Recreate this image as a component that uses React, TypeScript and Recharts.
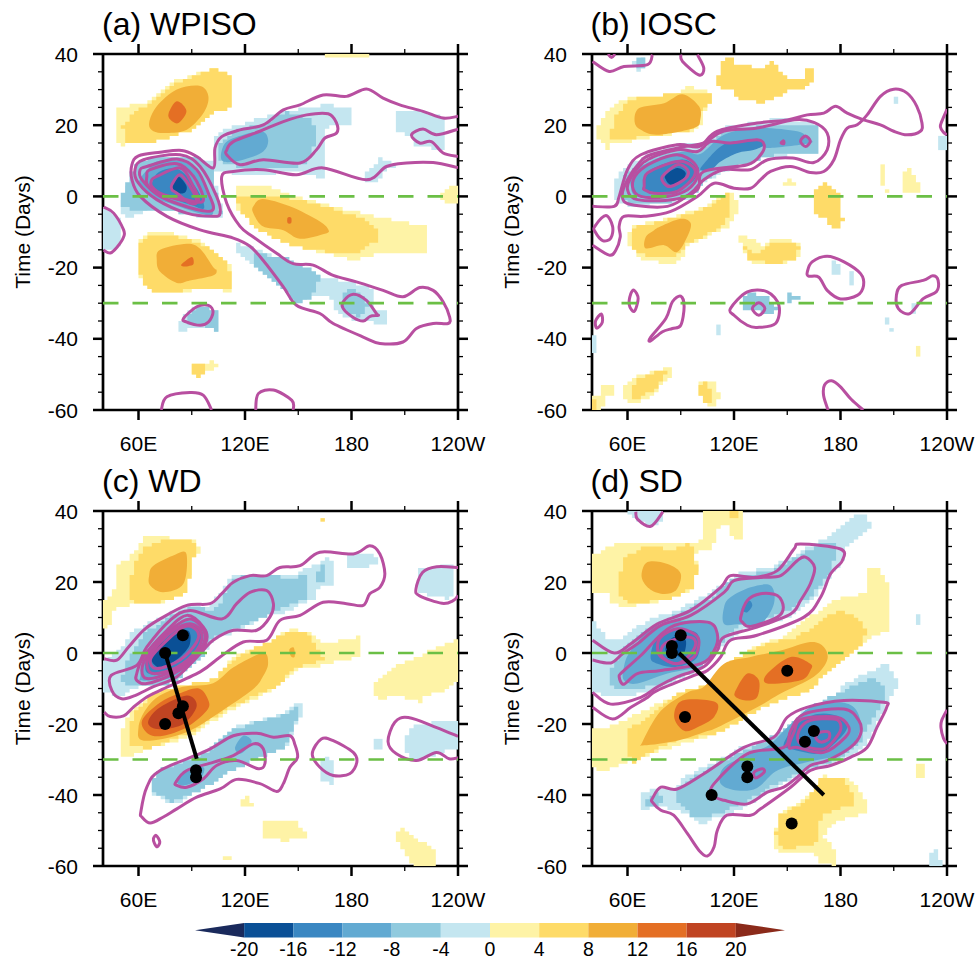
import React from "react";
import { ScatterChart, Scatter, XAxis, YAxis } from "recharts";

// ============================================================================
// Types
// ============================================================================

type Pt = [number, number]; // [longitude, lag day]
type XY = { x: number; y: number };

interface Shade {
  level: number; // colour band: -5..-1 negative, 1..5 positive
  pts: Pt[];
}

interface Contour {
  closed: boolean;
  pts: Pt[];
}

// ============================================================================
// Data
// ============================================================================

const LON_TICKS = [60, 90, 120, 150, 180, 210, 240];
const LON_MAJOR: Record<number, string> = { 60: "60E", 120: "120E", 180: "180", 240: "120W" };
const DAY_TICKS = [40, 35, 30, 25, 20, 15, 10, 5, 0, -5, -10, -15, -20, -25, -30, -35, -40, -45, -50, -55, -60];
const DAY_MAJOR = [40, 20, 0, -20, -40, -60];
const DASHED_DAYS = [0, -30];
const BAR_TICKS = [-20, -16, -12, -8, -4, 0, 4, 8, 12, 16, 20];

const WPISO_SHADES: Shade[] = [
  { level: 1, pts: [[48, 25], [63, 26], [78, 32], [102, 36], [108, 35], [112, 33], [112, 25], [100, 23], [93, 19], [67, 15], [54, 15], [52, 14], [48, 15]] },
  { level: 2, pts: [[51, 20], [56, 23], [66, 26], [78, 31], [102, 36], [108, 35], [112, 33], [112, 25], [100, 23], [93, 19], [67, 15], [55, 15], [52, 16]] },
  { level: 3, pts: [[66, 20.6], [70.3, 25.3], [81.6, 30], [94.7, 31], [99.4, 28], [96.6, 23.4], [87.2, 18.7], [76, 17.8], [68.4, 18.3]] },
  { level: 4, pts: [[77, 23.4], [81.6, 26.7], [87, 24], [82.5, 20.6], [78, 21.5]] },
  { level: -1, pts: [[102, 17], [115, 20], [142, 24], [162, 25.3], [167, 26.7], [172, 24.8], [180, 24.8], [180, 20.6], [165, 19.2], [165, 4.7], [147, 7.5], [128, 5.6], [112, 6.6], [102, 7.5]] },
  { level: -2, pts: [[105, 15], [113.4, 18.3], [132, 20.6], [143.4, 23.9], [158.5, 21.5], [159.4, 15], [154.7, 9.4], [147, 7.5], [124.7, 7.5], [107.8, 9.4], [104, 11.2]] },
  { level: -3, pts: [[107, 13], [111.6, 16], [128.4, 18.3], [133, 16], [130.3, 12.6], [119, 10.3], [107.8, 9.8]] },
  { level: -1, pts: [[205.3, 24], [224, 23.4], [233.4, 22], [233.4, 13], [215.6, 14], [215.6, 17], [205.3, 17.8]] },
  { level: -1, pts: [[187.5, 3.7], [187.5, 6.6], [192, 8.4], [196, 10.8], [201.6, 9.4], [212, 9.4], [199.7, 7.5], [194, 3.7]] },
  { level: -1, pts: [[50.6, -2], [54.4, 4], [57.2, 8.4], [74, 11.2], [91, 11.2], [102, 9.4], [102, 5.6], [106, -1], [107, -5.6], [92.8, -5.6], [77.8, -3.7], [66.6, -3.3], [56, -6], [50, -5]] },
  { level: -2, pts: [[50.6, -3], [51, 1], [55, 6], [60, 10], [74, 11.5], [91, 11.5], [102, 8], [104, 0], [107, -5], [93, -5.5], [78, -4], [66, -3.5], [58, -4]] },
  { level: -3, pts: [[61, 5], [66, 8], [72, 10], [87, 9.4], [98, 3], [102, -4.7], [94, -4.7], [78, -2], [67, 0], [61, 3]] },
  { level: -4, pts: [[67.5, 3.7], [72, 7], [83, 7.5], [93, 2], [97, -3.3], [89, -2.3], [76, 0], [68.5, 1.4]] },
  { level: -5, pts: [[79, 3.7], [82.5, 5.6], [87, 3], [86, 1], [81.6, 1], [79, 2.3]] },
  { level: -1, pts: [[40, -3], [45, -4], [50, -7], [51, -11], [48, -15], [42, -15], [40, -14]] },
  { level: 1, pts: [[115, 3], [132, 3], [147, 0], [170, -3], [194, -5.6], [222, -8.5], [222, -16], [200, -15.5], [183, -18], [166, -16], [147, -14], [130, -10], [115, -3]] },
  { level: 2, pts: [[115, 0], [132, 0.5], [151, -1], [170, -3.7], [188, -6.5], [194, -9.5], [194, -12.5], [183, -16.5], [166, -15.5], [147, -14], [130, -10], [118, -5]] },
  { level: 3, pts: [[124.7, -2.8], [130, -0.7], [145.3, -2.8], [162, -7], [167, -9.4], [165, -10.5], [151, -11.9], [141.6, -9.5], [130, -8.4], [124.7, -4.7]] },
  { level: 4, pts: [[144, -6], [146, -6], [146, -7.5], [144, -7.5]] },
  { level: 1, pts: [[60, -12.3], [64.7, -10.5], [74, -10], [94.7, -12.3], [102, -15], [111.6, -18.9], [112.5, -26.8], [102, -25.9], [83.4, -26.8], [68.4, -27], [62.8, -25], [60, -21.7]] },
  { level: 2, pts: [[61, -13], [65, -11], [74, -10.5], [94, -13], [102, -15.5], [111, -19], [112, -26.5], [102, -25.5], [83, -26.7], [68.5, -26.7], [63, -25], [61, -21]] },
  { level: 3, pts: [[70.3, -18], [72.2, -15], [87.2, -13.3], [94.7, -14.7], [102, -19.8], [104, -20.7], [102, -22.2], [89, -23.6], [81.6, -24.3], [72.2, -21.2]] },
  { level: 4, pts: [[84.4, -19], [90, -17], [91, -19], [88, -19.6], [84.7, -19.6]] },
  { level: -1, pts: [[115, -13.3], [124.7, -14.2], [132.2, -16], [162.2, -22.6], [188.4, -25], [192, -26.4], [192, -32], [199.7, -32], [199.7, -36], [192, -36], [192, -35.3], [177, -34.3], [170.6, -32], [169.7, -28.7], [160.3, -27.8], [149, -30], [141.6, -25.9], [130.3, -21.7], [122.8, -18], [115, -16]] },
  { level: -2, pts: [[123.7, -16], [132.2, -16.5], [143.4, -17.5], [158.5, -20.7], [162.6, -23.1], [156.3, -28.7], [149, -30], [141.6, -25.9], [130.3, -21.7], [124.7, -19]] },
  { level: -2, pts: [[173.3, -28.7], [180, -25.2], [184.7, -27.3], [189.4, -30.6], [184.7, -33.7], [176.3, -32]] },
  { level: -1, pts: [[82.5, -35.5], [86.3, -32.9], [92.8, -30.6], [104, -32.5], [105, -38.1], [98.4, -36.7], [82.5, -38]] },
  { level: -2, pts: [[86, -35.3], [90, -32], [96.6, -30.6], [104, -32.5], [105, -38], [97.5, -36.3], [90, -36.5]] },
  { level: 1, pts: [[90, -47.2], [97.5, -47], [102, -46.2], [105, -47.4], [102, -48.6], [94.7, -49.3], [94.7, -51], [90.6, -50]] },
  { level: 2, pts: [[90, -47.2], [97, -47.2], [97, -49.5], [94.7, -51], [90.6, -50]] },
  { level: 1, pts: [[165, 40], [190, 40], [190, 39.2], [180, 38.8], [168, 38.5]] },
  { level: 1, pts: [[230, -1], [232, 2], [238, 3], [240, 5], [240, -2], [233, -1.5]] },
];

const WPISO_CONTOURS: Contour[] = [
  { closed: false, pts: [[240, 22.5], [231.6, 22], [220.3, 23.9], [207.2, 25.7], [197.8, 27.6], [188.4, 30.2], [177.2, 28.1], [164, 28.5], [151, 25.7], [141.6, 24.3], [130.3, 20.1], [117.2, 18.7], [106.9, 16.8], [103.1, 13.6], [102.2, 8], [92.8, 11.2], [84.4, 12.9], [72.2, 12.4], [60, 11.4], [56.3, 8.9], [56.3, 4.7], [61, 0], [76, -5.6], [94.7, -9.4], [113.4, -11.7], [122.8, -14], [130.3, -18], [141.6, -25.4], [149, -30.6], [162.2, -32.9], [169.7, -35.7], [186.6, -39.5], [196, -41.3], [209, -40.9], [216.6, -37.1], [226, -35.7], [234.4, -35.7], [235.3, -33.9], [231.6, -29.6], [226, -26.4], [218.4, -25.6], [209, -28.2], [197.8, -26.4], [182.8, -24], [169.7, -22.2], [158.4, -19.3], [147.2, -18.9], [137.8, -16], [124.7, -11.4], [117.2, -8.4], [109.7, -1.9], [106.9, 5.6], [113.4, 7], [130.3, 7.5], [149, 6.1], [164, 8], [188.4, 4.7], [199.7, 8.4], [211, 9.4], [226, 9.5], [240, 8.1]] },
  { closed: true, pts: [[109.7, 13], [113.4, 15.4], [128.4, 18.3], [141.6, 21], [154.7, 22.9], [166.9, 23.2], [171.6, 20.6], [171.6, 17.8], [165, 16.4], [160.3, 13.1], [151, 9.4], [130.3, 10.3], [117.2, 8.9], [109.7, 11.7]] },
  { closed: false, pts: [[240, 18.9], [227.8, 17.3], [220.3, 18.9], [213.8, 17.3], [218.4, 15], [225, 15.4], [231.6, 12.2], [240, 11.2]] },
  { closed: true, pts: [[62.8, 10.3], [83.4, 11.7], [94.7, 8.4], [104, 0], [106, -4.7], [102, -5.6], [87.2, -4.7], [70.3, -0.9], [60, 3.7], [58, 7.5]] },
  { closed: true, pts: [[64.7, 8.4], [81.6, 10.5], [92.8, 7.5], [99.4, 0.9], [102, -3.7], [92.8, -3.7], [72.2, 0], [61.9, 4.7], [60.9, 7.5]] },
  { closed: true, pts: [[66.6, 7.5], [81.6, 9.2], [91, 5.6], [96.6, -0.9], [90, -1.4], [76, 0], [65.6, 2.8], [64.7, 5.6]] },
  { closed: true, pts: [[70.3, 5.6], [83.4, 8], [90, 3.7], [93.8, -1.4], [87.2, -0.9], [74, 0.5], [67.5, 2.8], [67.5, 4.7]] },
  { closed: true, pts: [[78.8, 3.3], [83.4, 6.1], [89, 2.8], [92.8, -1.4], [89, -1.9], [81.6, 0.9], [78.8, 1.9]] },
  { closed: true, pts: [[175.3, -29.6], [181, -27.5], [188.4, -29.2], [194, -32.9], [195, -33.4], [190.5, -33.7], [186.6, -35], [181, -34], [175.3, -31.5]] },
  { closed: true, pts: [[85.3, -34.3], [92.8, -31], [99.4, -30.6], [102, -32.5], [99.4, -35.3], [94.7, -36.2], [87.2, -35.3]] },
  { closed: false, pts: [[40.3, -3], [46, -4.7], [51.6, -9.4], [51.6, -11.4], [48, -14.2], [44.1, -15.9], [40.3, -15.1]] },
  { closed: false, pts: [[72.8, -60], [76, -56.3], [89, -55.1], [96.6, -55.9], [101.2, -60]] },
  { closed: false, pts: [[126, -60], [127.5, -55.4], [136, -54.4], [146.4, -57.3], [147.2, -60]] },
];

const IOSC_SHADES: Shade[] = [
  { level: 1, pts: [[43, 16], [43, 20], [52, 26], [63, 28], [88, 28.5], [92, 31], [108, 29], [108, 27], [103, 23], [103, 20], [95, 18], [78, 17], [62, 15.5], [52, 15], [49, 13], [48, 15]] },
  { level: 2, pts: [[50.6, 16], [51.6, 21.5], [58, 25.7], [64, 27.6], [88, 29], [108, 29], [108, 27], [101, 23.4], [101, 20.6], [94, 18.3], [77, 17.3], [67.5, 16.8], [58, 15.4]] },
  { level: 3, pts: [[64, 21], [66.6, 24.8], [80.6, 26.2], [91, 28.7], [100.3, 25.3], [101, 21.5], [97.5, 19.2], [77, 17.3], [67.5, 18.7]] },
  { level: 2, pts: [[110.6, 32.8], [114.4, 39.5], [120, 39.5], [121, 37], [137, 36], [141.6, 37.9], [150, 33.2], [160, 33.2], [160, 36], [165, 35.6], [165, 32.3], [160, 30.4], [152, 30.4], [150, 29], [136, 26.2], [124, 27.1], [118, 30], [112, 30]] },
  { level: -1, pts: [[63, 38], [70, 39], [70, 36.5], [67.5, 35], [64, 36.5]] },
  { level: -2, pts: [[65.6, 38.6], [70, 38.8], [70, 36.5], [66, 36.5]] },
  { level: -1, pts: [[53, 0], [53, 4.7], [57, 7.5], [71, 12.2], [90, 15], [105, 15], [114, 19.5], [133, 21], [144, 22], [165, 20.6], [168, 20], [168, 12], [139, 11.2], [129, 9.4], [112.5, 6.6], [100, 2.3], [97.5, -0.5], [84, -2], [62, -3], [54.4, -1]] },
  { level: -2, pts: [[56, 1], [59, 6.5], [74, 11], [89.5, 13.5], [101, 13], [116, 18.5], [133, 19.5], [145.5, 20.5], [165, 20], [167.8, 19.8], [167.8, 12.2], [139, 11.4], [129, 9.4], [113, 7], [102, 4], [98, 0], [85, -1.5], [62, -2]] },
  { level: -3, pts: [[61.9, 2.8], [62.8, 6.6], [75, 10.3], [91.9, 12.6], [101.3, 12], [114.4, 17.3], [133, 19.2], [155.6, 18.3], [161, 16.4], [163, 15], [140.6, 13.6], [135, 14], [125.6, 13], [112.5, 10.3], [99.4, 6.6], [97.5, 3.7], [84.4, 0], [65.6, 0]] },
  { level: -4, pts: [[69.4, 3.7], [73, 7.5], [90, 10.3], [97.5, 8.9], [100.3, 7.5], [95.6, 3.7], [82.5, 0.9], [73, 1.4], [69.4, 2.3]] },
  { level: -4, pts: [[101, 7.5], [105, 10.3], [112.5, 14], [120, 15.4], [133, 15.9], [137, 14.5], [131, 13], [122, 12.2], [112.5, 9.8], [107, 7.5]] },
  { level: -5, pts: [[81.6, 6.1], [88, 8], [92.8, 6.6], [90, 4.2], [84.4, 3.3], [81.6, 4.7]] },
  { level: 1, pts: [[61, -10], [64, -8], [88, -5.6], [105, -2.3], [118, 1.9], [123, -2.8], [118, -8.4], [112.5, -9.5], [99.4, -12.8], [94, -13.3], [90, -18], [86, -19], [70, -18], [61, -14.2]] },
  { level: 2, pts: [[62, -10.5], [65, -8.5], [88, -6], [105, -3], [117, 1.5], [118, -3], [115, -8], [100, -12], [93, -13.5], [88, -17], [72, -17.5], [62, -14]] },
  { level: 3, pts: [[78.8, -8.4], [90, -6.3], [95.6, -7.5], [94, -11], [88, -15.6], [80.6, -13.7], [70.3, -14.6], [70.3, -11.4], [75, -9.5]] },
  { level: 1, pts: [[148, 3.3], [151, 5.1], [154.7, 3.3]] },
  { level: 2, pts: [[165, 1.9], [171.6, 3.7], [180, 0], [180, -4.7], [181.9, -6.6], [180, -9.4], [176.3, -9.4], [172.5, -6.6], [166, -4.7]] },
  { level: 1, pts: [[202.5, 9.4], [205.3, 9.4], [205.3, 2.8], [202.5, 2.8]] },
  { level: 1, pts: [[204.4, 2.3], [208, 2.3], [208, 1], [204.4, 1]] },
  { level: 1, pts: [[215.6, 6.6], [219.4, 8], [222.2, 4.7], [225, 3.3], [225, 1], [215.6, 1]] },
  { level: 1, pts: [[122.8, -10.9], [132.2, -11.9], [135, -14.2], [142.5, -11.4], [157.5, -13.3], [156.5, -17], [150, -18.9], [129.4, -18.9], [124.7, -15]] },
  { level: 2, pts: [[125, -14.2], [133, -16], [142.5, -12.8], [156.6, -13.7], [155.6, -17.5], [144.4, -18.9], [129.4, -18]] },
  { level: -2, pts: [[125, -28.2], [127.5, -27.3], [137.8, -27.8], [144.4, -31.5], [143.4, -32.9], [125.6, -32]] },
  { level: -2, pts: [[150, -27.3], [153, -27.8], [157.5, -28.2], [157.5, -29.2], [153, -29.2], [150, -30]] },
  { level: -1, pts: [[175.3, -18], [180, -19], [180, -22.2], [175.3, -22.2]] },
  { level: -1, pts: [[185, -21.2], [187.5, -21.2], [187.5, -25.3], [185, -25.3]] },
  { level: -1, pts: [[204.7, -33.9], [207.2, -33.9], [207.2, -36.2], [204.7, -36.2]] },
  { level: -1, pts: [[207.6, -37.1], [210.4, -37.1], [210.4, -38], [207.6, -38]] },
  { level: -1, pts: [[219.8, -30.1], [222.7, -30.1], [222.7, -32.5], [219.8, -32.5]] },
  { level: -1, pts: [[110.2, -35.5], [112.5, -35.5], [112.5, -38.5], [110.2, -38.5]] },
  { level: -1, pts: [[40, -39], [42.8, -39], [42.8, -44], [40, -44]] },
  { level: -1, pts: [[235.3, 16.8], [240, 17.3], [240, 13.1], [235.3, 13.1]] },
  { level: -1, pts: [[209.6, 28], [212.6, 28], [212.6, 25.7], [209.6, 25.7]] },
  { level: 1, pts: [[222.7, -41.5], [225.4, -41.5], [225.4, -44.6], [222.7, -44.6]] },
  { level: 1, pts: [[40, -56.3], [45, -56.3], [45, -53], [52.5, -53], [52.5, -55.9], [48, -56.3], [48, -59.2], [43, -60], [40, -60]] },
  { level: 2, pts: [[40, -57], [43, -57], [43, -60], [40, -60]] },
  { level: 1, pts: [[57.2, -53.5], [65.6, -50.2], [84.4, -48.1], [85.3, -50], [75, -55.4], [66.6, -58.2], [63.8, -58], [57.2, -57]] },
  { level: 2, pts: [[61, -54.5], [65.6, -51], [77, -49.3], [84.4, -48.4], [77, -53.5], [65.6, -57.3], [62, -57.3]] },
  { level: 1, pts: [[100.3, -52.1], [110, -52.1], [110, -55.1], [112.5, -55.1], [112.5, -57], [110, -57], [110, -59.2], [105, -59.2], [100.3, -55.1]] },
  { level: 2, pts: [[101.2, -53], [104, -52], [107.8, -55.4], [108.8, -58], [105, -58.6], [101.2, -55.4]] },
];

const IOSC_CONTOURS: Contour[] = [
  { closed: false, pts: [[40.3, -2.8], [52.5, -2.8], [55.3, 0], [60, 7.5], [67.5, 11.7], [88, 14.5], [100.3, 14], [110.6, 18.3], [133, 20.6], [150, 21.5], [161.3, 22.9], [170.6, 23.4], [177.2, 25.3], [183.8, 23.4], [193, 21.5], [202.5, 20.1], [210, 18.3], [217.5, 17.3], [225, 18.3], [225.9, 20.6], [223, 25.3], [217.5, 29], [210, 30.1], [202.5, 28.1], [195, 22.9], [189.4, 20.1], [183.8, 19.2], [180, 15.9], [176.3, 10.3], [170.6, 7], [163, 6.7], [151.9, 8.4], [140.6, 7], [135, 4.7], [129.4, 2.3], [120, 2.3], [108.8, 3.7], [99.4, 0], [84.4, -4.2], [69.4, -5.6], [58, -5.6], [55.3, -8.4], [55.9, -11.4], [53.4, -15.1], [49.7, -16.5], [40.3, -13.7]] },
  { closed: true, pts: [[41.6, -8.4], [47.8, -5.4], [51.6, -8.4], [50.6, -11.7], [46, -12.4], [41.6, -9.8]] },
  { closed: true, pts: [[57, 0], [60, 4.7], [66.6, 9.4], [73, 11.7], [92, 14], [103, 15], [114, 18.3], [133, 19.2], [154, 21.5], [165, 20.8], [172.5, 17.8], [172.5, 13.1], [165, 9.5], [153, 10.8], [139, 10.3], [129, 7.5], [114, 7.5], [103, 4.7], [95.6, 0.9], [82.5, -2.8], [62, -2.3]] },
  { closed: true, pts: [[60, 1.9], [62.8, 6], [71.3, 10.3], [88, 13.1], [99.4, 12.6], [106.9, 15.4], [118, 15], [133, 15.9], [137, 14.5], [135, 11.7], [127.5, 8.9], [103, 7], [99.4, 1.9], [86, -0.9], [65.6, -0.9]] },
  { closed: true, pts: [[62.8, 2.8], [65.6, 6.6], [75, 9.8], [88, 11.7], [97.5, 9.4], [99.4, 5.6], [93.8, 1.9], [82.5, 0], [67.5, 0]] },
  { closed: true, pts: [[69.4, 2.8], [71.3, 6.6], [88, 9.8], [96.6, 8.4], [97.5, 5.6], [88, 1.4], [75, 0.9], [69.4, 1.9]] },
  { closed: true, pts: [[79.7, 5.6], [88, 8.9], [93.8, 7.5], [92.8, 5.1], [84.4, 2.8], [80.6, 3.7]] },
  { closed: true, pts: [[157.5, 15.5], [160.3, 17], [163, 15.5], [160.3, 14]] },
  { closed: true, pts: [[146.5, 15], [148, 15.6], [148, 14.8]] },
  { closed: false, pts: [[40.3, 37.9], [49.7, 35.1], [58, 36.5], [71.3, 37], [74, 39.8]] },
  { closed: false, pts: [[49, 40], [51, 39], [53, 40]] },
  { closed: false, pts: [[90, 39.8], [91, 37.9], [100.3, 34.1], [103, 36], [99.4, 39.8]] },
  { closed: false, pts: [[240, 24.5], [237, 21], [236.3, 19.5], [238, 18], [240, 17.3]] },
  { closed: true, pts: [[161.3, -21.2], [164, -18.4], [172.5, -16.8], [182, -18.4], [191.3, -21.7], [193, -25], [189.4, -27.8], [180, -28.8], [172.5, -26.4], [167.8, -22.7], [162, -22.4]] },
  { closed: true, pts: [[211.5, -27.8], [214.5, -25], [226.6, -23.6], [232, -22.3], [235, -23.6], [234, -26.8], [226.6, -28.7], [219, -32.9], [212.6, -31.5]] },
  { closed: true, pts: [[118, -31.5], [127.5, -26.8], [138.8, -26.8], [145.3, -30.6], [143.4, -35.7], [133, -36.8], [127.5, -36.2], [120, -33.4]] },
  { closed: true, pts: [[130.3, -31.5], [134, -29.9], [137.4, -31.5], [134, -33.4]] },
  { closed: true, pts: [[61.9, -27.3], [63.8, -26.4], [66, -28.7], [63.8, -32.3], [61, -30.5]] },
  { closed: true, pts: [[73, -40.6], [79.7, -38], [85.3, -37.1], [90, -36.2], [91.9, -31], [90, -28], [85.3, -29.6], [81.6, -34.3], [73, -39.6]] },
  { closed: true, pts: [[42, -35], [45.2, -33], [45.8, -35.4], [42.7, -37]] },
  { closed: false, pts: [[173, -60], [170.5, -56], [171, -53], [175, -51.8], [180, -53.5], [186, -57], [192.8, -60]] },
];

const WD_SHADES: Shade[] = [
  { level: 1, pts: [[40.7, 6.4], [40.7, 14.8], [46, 17.6], [47.8, 24.1], [59, 28.8], [62.8, 33.5], [70.3, 32.8], [92.8, 31.6], [94.7, 28.8], [91, 27], [86, 16.7], [70.3, 13.4], [57, 13.9], [46, 12], [44, 8.2]] },
  { level: 2, pts: [[54.4, 18.5], [57, 24.1], [62.8, 29.8], [74, 32.1], [91, 31.6], [92, 28.8], [87, 16.7], [70.3, 13.9], [57, 13.9]] },
  { level: 3, pts: [[66, 21.8], [68.4, 24.6], [80.6, 27.7], [87, 27.9], [85.3, 19.5], [74, 17.1], [66.6, 19]] },
  { level: 2, pts: [[162, 38], [165, 38], [165, 37], [162, 37]] },
  { level: -1, pts: [[41, -2], [50, 1.7], [57, 6.4], [72, 10], [89, 14], [100, 13], [112.5, 22], [125, 22.3], [147, 22], [160, 25], [167, 26.8], [170, 25], [170, 19.3], [159.4, 18], [159.4, 15.3], [142.5, 11.5], [130, 10], [117, 6.4], [102, 3.6], [98, -0.2], [80, -7.7], [62, -9], [50, -12.5], [40, -11], [40, -3]] },
  { level: -2, pts: [[50.6, -6.7], [53.4, -2], [63, 5.4], [80, 11], [93, 13.4], [100, 12], [106, 13.9], [113, 21.3], [125, 21.8], [147, 21.3], [155, 21.8], [155.6, 15.7], [143.4, 12.9], [130, 10], [121, 8.2], [111.6, 6.4], [99.4, 3.6], [96.6, -1.1], [80, -8.6], [62, -9], [52, -9]] },
  { level: -2, pts: [[159.4, 21.3], [163, 25.6], [166, 23.2], [165, 20.4], [160.3, 19.5]] },
  { level: -3, pts: [[61, -6.7], [62.8, -1.1], [74, 5.4], [89, 9.2], [98.4, 6.4], [98.4, 3.1], [91, -2], [79.7, -6.7], [68.4, -7.7], [61, -7.7]] },
  { level: -4, pts: [[63.8, -3.9], [65.6, -1.1], [76, 5.4], [89, 8.2], [95.6, 6.4], [95.6, 3.1], [89, -2], [74, -5.8], [65.6, -5.8]] },
  { level: -5, pts: [[67.5, -1.1], [74, 3.1], [87.2, 6.4], [89, 2.6], [83.4, -1.1], [74, -3.9], [69.4, -3.5]] },
  { level: -1, pts: [[177.6, 27.4], [192.2, 28.4], [195, 25], [187.5, 24.1], [177.2, 24]] },
  { level: -1, pts: [[216.9, 23.7], [237.6, 24.9], [237.6, 15.7], [233, 15.3], [216.9, 17.1]] },
  { level: 1, pts: [[147, 7], [158, 5.4], [164, 2.6], [184.7, 4.5], [184.7, -1.1], [170, -2.5], [165, -3.5], [151, -4.4], [136, -10.5], [130, -12], [113, -16], [87, -24], [63, -27.5], [55, -29], [50, -29], [50, -23], [55, -16.3], [70, -11], [85, -9], [102, -8], [113, -1.1], [132, 3]] },
  { level: 2, pts: [[147, 6.5], [155, 5.5], [163, 0], [164, -2], [150, -4], [136, -10], [113, -15], [87, -23], [65, -27], [56, -26], [54, -22], [58, -16], [70, -11], [85, -9], [102, -7.5], [114, -1.5], [132, 3]] },
  { level: 3, pts: [[63, -24.7], [60, -21], [64, -16], [72, -12], [85, -9.5], [102, -8.5], [113.5, -4], [130, 0], [133, -3], [130, -6.7], [125, -10], [110, -15.3], [87, -22.3]] },
  { level: 3, pts: [[145, 1], [147.5, 1.5], [148, -1], [146, -1]] },
  { level: 4, pts: [[62, -19], [72, -14], [83, -11.4], [94, -10], [99.4, -13.4], [98.4, -16.3], [87, -21], [74, -23.3], [65.6, -22.8]] },
  { level: 5, pts: [[65.6, -19], [72.2, -15.3], [87.2, -12], [92.8, -14.9], [85.3, -20], [74, -21.4], [67.5, -21]] },
  { level: 1, pts: [[192, -8.6], [203, -4], [233, 2.6], [240, 4], [240, -8], [233.4, -10.6], [222, -12], [218.4, -14], [207, -12], [198, -13], [192, -11.6]] },
  { level: -1, pts: [[67.5, -36], [72, -32.6], [98.4, -27.5], [113, -21], [126.6, -19], [141.6, -17], [148, -14.4], [152, -14.4], [152, -17.7], [149, -20], [143.4, -26.6], [136, -28.4], [124.7, -29.8], [113, -33], [102, -36.8], [91, -39.7], [80, -42.9], [74, -41], [68, -40]] },
  { level: -2, pts: [[68, -36], [72, -33], [98, -28], [113, -21.5], [126.6, -19.5], [141.6, -17.5], [148, -15], [150, -16], [150, -18], [148, -20.5], [142, -27], [135, -28.5], [124, -30.5], [112, -33.5], [101, -37], [90, -40], [80, -42], [74, -40.5], [68.5, -39.5]] },
  { level: -3, pts: [[114.4, -26.6], [119, -23.3], [123.7, -24.7], [121, -27], [117, -28.4]] },
  { level: -3, pts: [[81.6, -35.9], [87, -33], [96.6, -32.2], [94.7, -35.4], [85.3, -37.3]] },
  { level: -1, pts: [[162, -32], [165, -29.4], [167.6, -29.4], [169.4, -31.7], [171.3, -34], [169.4, -36.8], [165, -36.4], [162, -34.5]] },
  { level: -1, pts: [[192.6, -24.2], [197.4, -24.2], [197.4, -27], [192.6, -27]] },
  { level: -1, pts: [[210, -24.7], [212.8, -21], [222.2, -20], [233.4, -19], [239.4, -19.5], [239.4, -26.6], [229.7, -28.4], [214.8, -30.3], [210, -27.5]] },
  { level: 1, pts: [[130.3, -47.1], [147.2, -47.1], [154.7, -50.9], [154.7, -51.8], [143.4, -53], [130.3, -51.8]] },
  { level: 1, pts: [[205.3, -50.9], [210, -49], [212.8, -50.9], [226.9, -55.6], [226.9, -60], [214.7, -60], [205.3, -52.8]] },
  { level: 1, pts: [[107.8, -56.5], [112.5, -58], [107.8, -58]] },
  { level: 1, pts: [[117.5, -41.5], [121.8, -40.1], [124.7, -43], [119, -43]] },
];

const WD_CONTOURS: Contour[] = [
  { closed: false, pts: [[40.7, -1.6], [47.8, -2], [54.4, 1.7], [62.8, 6.4], [72.2, 9.6], [87.2, 13.4], [100.3, 13.9], [106.9, 16.7], [113.4, 19.9], [122.8, 21.8], [132.2, 21.8], [139.7, 24.1], [151, 24.6], [162.2, 28.4], [181, 27.9], [190.3, 30.2], [196, 27.9], [198.8, 22.3], [196, 18.5], [190.3, 16.7], [186.6, 13.4], [177.2, 13.9], [164, 14.3], [151, 10.6], [139.7, 9.2], [132.2, 3.6], [119, 3.1], [106, -1.1], [94.7, -5.3], [72.2, -10.5], [64.7, -12.4], [57, -15.3], [51.6, -17.7], [44, -17.9], [40.7, -16.7]] },
  { closed: true, pts: [[44.6, -6.3], [59, -3.5], [64.7, 1.7], [77.8, 9.2], [89, 12], [106.9, 9.6], [115.3, 13.9], [122.8, 17.1], [132.2, 17.6], [136, 13.9], [134, 10.1], [126.6, 6.4], [113.4, 6.4], [102, 3.6], [94.7, -0.2], [81.6, -6.7], [68.4, -9.5], [58, -12], [50.5, -12.9], [45, -10.6]] },
  { closed: true, pts: [[59, -5.8], [62.8, -1.1], [76, 6.4], [87.2, 10.6], [96.6, 7.3], [98.4, 3.6], [92.8, -1.1], [79.7, -5.8], [64.7, -8.6], [59, -7.7]] },
  { closed: true, pts: [[61.9, -4.9], [64.7, -1.1], [77.8, 6.4], [89, 9.6], [96.6, 6.4], [96.6, 2.6], [89, -2], [76, -5.8], [64.7, -7.2]] },
  { closed: true, pts: [[64.7, -3], [68.4, 0.7], [79.7, 6.4], [90, 8.2], [95.6, 5.4], [92.8, 0.7], [81.6, -4], [68.4, -5.8]] },
  { closed: true, pts: [[66.6, -2], [72.2, 1.7], [85.3, 7.3], [92.8, 6.4], [92.8, 3.1], [83.4, -2], [70.3, -4.4]] },
  { closed: true, pts: [[61.3, -44.8], [64.7, -37.8], [72.2, -33.1], [98.4, -27.5], [113.4, -23.3], [126.6, -22.6], [136, -23.7], [145.3, -23.3], [148, -25.6], [149.6, -29.4], [145.3, -32.2], [141.6, -36.8], [137.8, -39], [128.4, -36.8], [115.3, -35.6], [106, -38.3], [92.8, -40.6], [81.6, -43.9], [74, -46.2], [66.6, -47.9], [61.9, -46.2]] },
  { closed: true, pts: [[81, -36.4], [87.2, -33.1], [102, -30.8], [113.4, -28.9], [124.7, -25.6], [130.3, -27], [131.2, -31.2], [127.5, -32.6], [115.3, -30.3], [104, -31.7], [96.6, -35.4], [87.2, -37.8], [81.6, -37.3]] },
  { closed: true, pts: [[68.4, -52.3], [70, -51.4], [72, -53.2], [70.5, -54.6], [69, -53.6]] },
  { closed: true, pts: [[157.9, -28.4], [163, -24.2], [169.7, -24.7], [181, -28], [183, -30.8], [179, -34], [169.7, -34.5], [162.2, -32.2]] },
  { closed: false, pts: [[240, -23.5], [228, -21], [212, -18.2], [204.4, -19.5], [200.6, -25], [205.3, -28.4], [216.6, -30.3], [227.8, -28], [235, -29.8], [240, -29.5]] },
  { closed: false, pts: [[240, 24.1], [228, 24.3], [220, 22.7], [216.3, 18], [218.4, 16.1], [231, 14], [237.5, 14.8], [240, 16.2]] },
];

const WD_LINE: Pt[] = [[75, 0], [92.8, -29.8]];
const WD_DOTS: Pt[] = [[75, 0], [85, 5], [85, -15], [82.5, -17], [75, -20], [92.4, -33], [92.4, -35]];

const SD_SHADES: Shade[] = [
  { level: 1, pts: [[40, 27.4], [52.5, 30.7], [65.6, 30.7], [95.6, 31], [103, 32], [103, 40], [124.7, 40], [124.7, 32], [119, 32], [118, 36], [110.6, 35.4], [107.8, 29.3], [98.4, 28.4], [99, 24], [97.5, 18.5], [92, 16.7], [82.5, 14.8], [60, 12.9], [50.6, 13.9], [48.8, 17.1], [40, 17.1]] },
  { level: 2, pts: [[55.3, 21.3], [58, 27], [71.3, 30.3], [84.4, 28.8], [95.6, 31.2], [99.4, 24.1], [97.5, 18.5], [82.5, 14.8], [60, 13.9], [55.3, 17.1]] },
  { level: 3, pts: [[67.9, 21.8], [71.3, 25.6], [82.5, 25.1], [90, 22.3], [87.2, 17.6], [78.8, 16.7], [71.3, 18.5]] },
  { level: 2, pts: [[117.8, 39.7], [122.8, 39.7], [122.8, 37.6], [117.8, 37.6]] },
  { level: -1, pts: [[40, 9.2], [49, 4], [58, 4.5], [71, 9.2], [88, 12], [110.6, 18.5], [122, 22.3], [142.5, 24.6], [170.6, 32], [187.5, 38.7], [195, 38.7], [197, 35], [182, 29.8], [182, 26], [174.4, 21.3], [165, 14.8], [152, 10.1], [125.6, 6.4], [114.4, 1.7], [107, -1.1], [99.4, -4.9], [77, -10.5], [58, -12.4], [40, -11.4]] },
  { level: -2, pts: [[49.4, -5.8], [54.4, -1.1], [63.8, 4.5], [76.9, 8.2], [88, 11], [106.9, 15.3], [114.4, 19.5], [121.9, 21.3], [142.5, 23.6], [168.8, 30.7], [178.1, 31.6], [176.3, 26], [174.4, 22.3], [165, 16.7], [151.9, 12], [136.9, 9.2], [125.6, 8.2], [114.4, 3.6], [106.9, -1.1], [99.4, -4.9], [80.6, -8.6], [61.9, -10.5], [50.6, -9.5]] },
  { level: -3, pts: [[58, -3.9], [61.9, 0.7], [75, 7.3], [95.6, 9.2], [106.9, 8.2], [110.6, 4.5], [108.8, -0.2], [99.4, -3.9], [82.5, -5.8], [65.6, -8.6], [58, -7.7]] },
  { level: -3, pts: [[114.4, 12.9], [118, 15.7], [129.4, 18.5], [140.6, 19], [142.5, 13.9], [135, 8.2], [123.8, 8.2], [114.4, 8.2]] },
  { level: -4, pts: [[73, -1.1], [76.9, 4.5], [88, 6.4], [99.4, 5.4], [99.4, -1.1], [88, -3.9], [76.9, -3]] },
  { level: -4, pts: [[124.7, 12.9], [128.4, 14.8], [130.3, 13.4], [127.5, 11.5], [124.7, 12]] },
  { level: -5, pts: [[81.6, 1.7], [86, 4.5], [92.8, 3.6], [91, -1.1], [86, -0.2], [82.5, -0.2]] },
  { level: -1, pts: [[61, 39.7], [80.7, 39.7], [78, 35.8], [72.5, 35.8], [64.7, 37.4]] },
  { level: -1, pts: [[222.8, 11], [225.4, 11], [225.4, 8.2], [222.8, 8.2]] },
  { level: 1, pts: [[40.3, -21.4], [46.9, -21.4], [61.9, -18], [80.6, -13.3], [103, -9.5], [120, -2.1], [133, 2.2], [148, 4.5], [165, 11], [178, 15.3], [195, 17.1], [195, 23.7], [200.6, 24.1], [207.2, 19.5], [207.2, 6.4], [195, 3.6], [192, 1.7], [178, -3.9], [170.6, -6.7], [161, -10.5], [136.9, -15.3], [110.6, -22.8], [73, -28.4], [50.6, -32.6], [45, -34], [40.3, -32.2]] },
  { level: 2, pts: [[59, -24.7], [60, -21.9], [78.8, -15.3], [88, -11.4], [106.9, -8.6], [118, -2], [136.9, 2.6], [155.6, 4.5], [178, 12], [189.4, 10.1], [195, 5.4], [191, 1.7], [178, -3], [163, -10.5], [136.9, -15.3], [110.6, -22.8], [88, -24.7], [71, -28.4], [63.8, -30.8], [60, -28.4]] },
  { level: 3, pts: [[68.4, -25.1], [78.8, -16.3], [93.8, -11.1], [103, -9.5], [114.4, -3], [129.4, -1.1], [146.3, 0.7], [163, 3.1], [170.6, 1.7], [172.5, -2], [165, -6.7], [146.3, -11.4], [133, -15.3], [110.6, -21], [103, -22.3], [88, -24.7], [69.4, -26]] },
  { level: 4, pts: [[138.8, -5.8], [151.9, -1.1], [163, -3], [163, -4.9], [157.5, -7.7], [138.8, -8.6]] },
  { level: 4, pts: [[121, -10.5], [127.5, -5.8], [134, -7.7], [133.1, -12.4], [127.5, -13.4], [121, -12.4]] },
  { level: 4, pts: [[86.3, -18], [91, -13.4], [109.7, -13.9], [108.8, -18], [99.4, -20.9], [91.9, -21.9]] },
  { level: 1, pts: [[142.5, -51.8], [145.3, -45.3], [161, -40.6], [170.6, -34.5], [187.5, -35.9], [195, -42.5], [195, -45.3], [178, -47.1], [170.6, -51.8], [178, -56], [178, -60], [167.8, -59.3], [165, -56], [145.3, -56], [142.5, -53.7]] },
  { level: 2, pts: [[143.4, -50.9], [145.3, -45.7], [161, -41.4], [168.8, -35], [181.9, -35], [186.6, -39.7], [186.6, -42.9], [170.6, -45.3], [166.9, -50], [166, -54.2], [149, -55.1], [145.3, -53.7]] },
  { level: 1, pts: [[222.8, -31], [227.8, -31], [227.8, -35], [222.8, -35]] },
  { level: -1, pts: [[230.6, -56.5], [234.4, -55], [237.2, -60], [230.6, -60]] },
  { level: -1, pts: [[181.9, -8.6], [206.2, -3], [213.7, -9.5], [210, -11.1], [202.5, -18], [195, -25.6], [189.4, -28.4], [176.3, -31.2], [163, -33.1], [148, -36.8], [133, -41.5], [118, -45.3], [110.6, -46.2], [105, -48], [100.3, -48.5], [95.6, -45.7], [80.6, -43.4], [67.5, -43.9], [67.5, -39.7], [73, -38.3], [88, -37.8], [90, -35.4], [110.6, -30.3], [125.6, -26], [142.5, -24.7], [161, -15.3], [178, -12.4]] },
  { level: -2, pts: [[181.9, -10.5], [198.8, -6.7], [205.3, -10.5], [204.4, -13.4], [198.8, -18], [191.3, -24.7], [181.9, -29.4], [163, -32.6], [144.4, -36.8], [131.3, -40.6], [112.5, -45.3], [98.4, -46.7], [88, -42], [87, -38.7], [93.8, -35.9], [110.6, -31.2], [129.4, -26.6], [146.3, -21.9], [163, -15.3]] },
  { level: -2, pts: [[70.3, -41], [76, -39.7], [81.6, -40.6], [77, -43], [70.3, -43]] },
  { level: -3, pts: [[140.6, -25.6], [150, -21], [163, -15.3], [178, -13.9], [187.5, -15.3], [191.3, -20], [187.5, -25.6], [178, -28.9], [161, -30.8], [144.4, -33.1], [133, -38], [121.9, -38.7], [112.5, -36.8], [114.4, -32.2], [129.4, -28.4]] },
  { level: -4, pts: [[148, -25.6], [155.6, -20], [166.9, -17.2], [178, -17.7], [183.8, -20.9], [176.3, -25.6], [166.9, -28.4], [151.9, -27]] },
];

const SD_CONTOURS: Contour[] = [
  { closed: false, pts: [[64.7, 39.8], [65.6, 37.7], [73.1, 35.7], [80, 39.8]] },
  { closed: false, pts: [[40.3, 3.6], [52.5, 0], [61.9, 2.6], [76.9, 8.2], [95.6, 12], [112.5, 18.5], [118, 21.8], [131.3, 21.3], [144.4, 23.2], [153.8, 29.3], [157.5, 30.7], [180, 29.3], [181, 26], [174.4, 22.3], [168.8, 15.7], [159.4, 10.1], [133, 5], [118, 3.6], [112.5, -1.1], [105, -4.9], [97.5, -6.3], [76.9, -10.5], [71.3, -12.5], [61.9, -15.3], [51.6, -18.6], [40.3, -15.3]] },
  { closed: false, pts: [[40.3, -2], [50.6, -2.8], [57.2, -0.2], [65.6, 2.6], [78.8, 7.8], [95.6, 10.6], [114.4, 17.1], [120, 20.4], [135, 21.3], [146.3, 21.8], [155.6, 26], [160.3, 27], [165.4, 24.1], [163, 19.5], [157.5, 14.8], [151.9, 11], [133, 7.3], [114.4, 4.5], [110.6, 0.7], [103, -3.9], [88, -6.7], [76.9, -9.5], [67.5, -12.5], [50.6, -14.4], [40.3, -11.1]] },
  { closed: true, pts: [[55.3, -6.7], [57.2, -5.3], [67.5, -0.7], [84.4, 7.3], [105, 8.7], [110.6, 5.4], [108.8, 0.7], [101.3, -3], [78.8, -4.9], [65.6, -5.8], [58, -8.8]] },
  { closed: true, pts: [[76.9, 1.7], [78.8, 4.5], [88, 6.8], [97.5, 5.4], [100.3, 3.1], [97.5, -1.1], [88, -3], [78.8, -1.1]] },
  { closed: true, pts: [[78.8, 0.7], [82.5, 3.1], [93.8, 4.5], [98.4, 3.1], [95.6, -0.2], [88, -3], [80.6, -1.6]] },
  { closed: true, pts: [[123.8, 10.1], [127.5, 14.8], [135, 16.7], [144.4, 16.2], [147.8, 12.9], [144.4, 10.1], [129.4, 7.5], [124.7, 8.7]] },
  { closed: true, pts: [[74, -41], [78.8, -37.8], [88, -38.3], [103, -34], [125.6, -26.6], [142.5, -23.7], [150, -18.1], [161, -15.3], [181.9, -13.4], [204.4, -13.9], [206, -15.3], [200.6, -20.9], [195, -26.6], [185.6, -29.4], [174.4, -31.7], [163, -33.1], [151.9, -37.8], [135, -43.9], [129.4, -45.7], [116, -45.7], [110.6, -50], [108.8, -54.6], [105, -57.2], [100.3, -55.6], [93.8, -50.9], [86, -45.7], [78.8, -44.3], [74, -42]] },
  { closed: true, pts: [[107.8, -40.1], [108.8, -36.8], [127.5, -28.4], [148, -26.6], [151.9, -21.9], [159.4, -17.2], [181.9, -15.8], [190.3, -19], [191.3, -22.8], [185.6, -26.6], [172.5, -30.3], [163, -31.7], [155.6, -35], [148, -37.8], [138.8, -39.2], [127.5, -42.5], [114.4, -41.5]] },
  { closed: true, pts: [[151, -26.6], [153.8, -22.3], [158.4, -18.6], [178, -18.1], [184.7, -20.9], [182.8, -23.7], [170.6, -28], [155.6, -26.6]] },
  { closed: true, pts: [[156.6, -21.9], [163, -19], [176.3, -18.6], [180, -20], [179, -22.8], [170.6, -27], [157.5, -25.6]] },
  { closed: true, pts: [[166, -23.7], [168.8, -22.3], [173.4, -22.3], [173.4, -24.2], [168.8, -25.1]] },
  { closed: true, pts: [[131.3, -33.6], [136, -32.6], [136.9, -33.6], [132.2, -35.2]] },
  { closed: false, pts: [[240, -16], [237, -19], [236.6, -21], [238, -24], [240, -25.6]] },
];

const SD_LINE: Pt[] = [[89, 0], [170.6, -40]];
const SD_DOTS: Pt[] = [[90, 5], [85, 2], [85, 0], [92.4, -18], [150, -5], [160, -25], [165, -22], [127.5, -32], [127.5, -35], [107.4, -40], [152.5, -48]];

// Colour bar bands, built from their bounds
const BAR_BANDS: { level: number; from: number; to: number }[] = [
  { level: -5, from: -20, to: -16 },
  { level: -4, from: -16, to: -12 },
  { level: -3, from: -12, to: -8 },
  { level: -2, from: -8, to: -4 },
  { level: -1, from: -4, to: 0 },
  { level: 1, from: 0, to: 4 },
  { level: 2, from: 4, to: 8 },
  { level: 3, from: 8, to: 12 },
  { level: 4, from: 12, to: 16 },
  { level: 5, from: 16, to: 20 },
];

// ============================================================================
// Constants
// ============================================================================

const LEVEL_COLORS: Record<number, string> = {
  [-6]: "#1a2a5c",
  [-5]: "#0a5096",
  [-4]: "#3a87c2",
  [-3]: "#62aad2",
  [-2]: "#90cade",
  [-1]: "#c4e6f0",
  1: "#fef3a6",
  2: "#fedb68",
  3: "#f1ae37",
  4: "#e46f24",
  5: "#c04422",
  6: "#8b2a1a",
};

const FONT = "'Liberation Sans', Arial, sans-serif";
const PINK = "#b84fa0";
const GREEN = "#6bbf45";

// data grid of the shading: 2.5 degrees by 1 day, in chart pixels
const CELL_W = 355 / 80;
const CELL_H = 3.56;
const PLOT_LEFT = 103;
const PLOT_TOP = 54;

const toPoints = (pts: Pt[]) => pts.map(([x, y]) => ({ x, y }));
const NoDot = () => <g />;

// ============================================================================
// Paths
// ============================================================================

// Catmull-Rom through the read points, so the outline stays where it was read
function smoothPath(pts: XY[], closed: boolean) {
  const n = pts.length;
  const at = (i: number) => (closed ? pts[(i + n) % n] : pts[Math.max(0, Math.min(n - 1, i))]);
  let d = `M${pts[0].x},${pts[0].y}`;
  for (let i = 0; i < (closed ? n : n - 1); i++) {
    const [p0, p1, p2, p3] = [at(i - 1), at(i), at(i + 1), at(i + 2)];
    d += `C${p1.x + (p2.x - p0.x) / 6},${p1.y + (p2.y - p0.y) / 6} ${p2.x - (p3.x - p1.x) / 6},${p2.y - (p3.y - p1.y) / 6} ${p2.x},${p2.y}`;
  }
  return closed ? `${d}Z` : d;
}

// Polygon edge snapped to the data grid: the shading is masked cell by cell
function blockPath(pts: XY[]) {
  const snapX = (x: number) => PLOT_LEFT + Math.round((x - PLOT_LEFT) / CELL_W) * CELL_W;
  const snapY = (y: number) => PLOT_TOP + Math.round((y - PLOT_TOP) / CELL_H) * CELL_H;
  let px = snapX(pts[0].x);
  let py = snapY(pts[0].y);
  let d = `M${px},${py}`;
  pts.forEach((a, i) => {
    const b = pts[(i + 1) % pts.length];
    const steps = Math.ceil(Math.hypot(b.x - a.x, b.y - a.y));
    for (let s = 1; s <= steps; s++) {
      const x = snapX(a.x + ((b.x - a.x) * s) / steps);
      const y = snapY(a.y + ((b.y - a.y) * s) / steps);
      if (x !== px) d += `H${x}`;
      if (y !== py) d += `V${y}`;
      px = x;
      py = y;
    }
  });
  return `${d}Z`;
}

// ============================================================================
// Ticks
// ============================================================================

const BottomTick = ({ x, y, payload }: any) => {
  const label = LON_MAJOR[payload.value];
  return (
    <g>
      <line x1={x} x2={x} y1={y} y2={y + (label ? 10 : 5)} stroke="#000" strokeWidth={label ? 2.5 : 1.3} />
      {label && (
        <text x={x} y={y + 41} textAnchor="middle" fontSize={21} fontFamily={FONT} fill="#000">
          {label}
        </text>
      )}
    </g>
  );
};

const TopTick = ({ x, y, payload }: any) => {
  const major = LON_MAJOR[payload.value];
  return <line x1={x} x2={x} y1={y} y2={y - (major ? 10 : 5)} stroke="#000" strokeWidth={major ? 2.5 : 1.3} />;
};

const LeftTick = ({ x, y, payload }: any) => {
  const major = DAY_MAJOR.includes(payload.value);
  return (
    <g>
      <line x1={x} x2={x - (major ? 10 : 5)} y1={y} y2={y} stroke="#000" strokeWidth={major ? 2.5 : 1.3} />
      {major && (
        <text x={x - 25} y={y + 7.5} textAnchor="end" fontSize={21} fontFamily={FONT} fill="#000">
          {payload.value}
        </text>
      )}
    </g>
  );
};

const RightTick = ({ x, y, payload }: any) => {
  const major = DAY_MAJOR.includes(payload.value);
  return <line x1={x} x2={x + (major ? 10 : 5)} y1={y} y2={y} stroke="#000" strokeWidth={major ? 2.5 : 1.3} />;
};

const BarTick = ({ x, y, payload }: any) => (
  <text x={x} y={y + 19} textAnchor="middle" fontSize={19.5} fontFamily={FONT} fill="#000">
    {payload.value}
  </text>
);

// ============================================================================
// Panel
// ============================================================================

interface PanelProps {
  title: string;
  left: number;
  top: number;
  height: number;
  shades: Shade[];
  contours: Contour[];
  segment?: Pt[];
  dots?: Pt[];
}

function Panel({ title, left, top, height, shades, contours, segment, dots }: PanelProps) {
  const sorted = [...shades].sort((a, b) => Math.abs(a.level) - Math.abs(b.level));
  const axisLine = { stroke: "#000", strokeWidth: 2.7 };
  return (
    <div style={{ position: "absolute", left, top, width: 490, height }}>
      <ScatterChart
        width={490}
        height={height}
        margin={{ top: 44, right: 22, bottom: 10, left: 5 }}
        style={{ position: "absolute", left: 0, top: 0 }}
      >
        <XAxis type="number" dataKey="x" domain={[40, 240]} allowDataOverflow ticks={LON_TICKS} interval={0} height={40} tickSize={0} tickMargin={0} tickLine={false} axisLine={axisLine} tick={BottomTick} />
        <XAxis xAxisId="top" orientation="top" type="number" dataKey="x" domain={[40, 240]} allowDataOverflow ticks={LON_TICKS} interval={0} height={10} tickSize={0} tickMargin={0} tickLine={false} axisLine={axisLine} tick={TopTick} />
        <YAxis
          type="number"
          dataKey="y"
          domain={[-60, 40]}
          allowDataOverflow
          ticks={DAY_TICKS}
          interval={0}
          width={98}
          tickSize={0}
          tickMargin={0}
          tickLine={false}
          axisLine={axisLine}
          tick={LeftTick}
          label={{ value: "Time (Days)", angle: -90, position: "insideLeft", offset: 18, style: { textAnchor: "middle", fontSize: 21, fontFamily: FONT, fill: "#000" } }}
        />
        <YAxis yAxisId="right" orientation="right" type="number" dataKey="y" domain={[-60, 40]} allowDataOverflow ticks={DAY_TICKS} interval={0} width={10} tickSize={0} tickMargin={0} tickLine={false} axisLine={axisLine} tick={RightTick} />

        {sorted.map((shade, i) => (
          <Scatter
            key={`shade-${i}`}
            data={toPoints(shade.pts)}
            shape={NoDot}
            isAnimationActive={false}
            line={(p: any) => (
              <path
                d={Math.abs(shade.level) <= 2 ? blockPath(p.points) : smoothPath(p.points, true)}
                fill={LEVEL_COLORS[shade.level]}
                stroke="none"
              />
            )}
          />
        ))}

        {contours.map((contour, i) => (
          <Scatter
            key={`contour-${i}`}
            data={toPoints(contour.pts)}
            shape={NoDot}
            isAnimationActive={false}
            line={(p: any) => <path d={smoothPath(p.points, contour.closed)} fill="none" stroke={PINK} strokeWidth={3} />}
          />
        ))}

        {DASHED_DAYS.map((day) => (
          <Scatter
            key={`dash-${day}`}
            data={[{ x: 40, y: day }, { x: 240, y: day }]}
            shape={NoDot}
            isAnimationActive={false}
            line={{ stroke: GREEN, strokeWidth: 2.7, strokeDasharray: "15.5 14" }}
          />
        ))}

        {segment && (
          <Scatter data={toPoints(segment)} shape={NoDot} isAnimationActive={false} line={{ stroke: "#000", strokeWidth: 4 }} />
        )}
        {dots && (
          <Scatter
            data={toPoints(dots)}
            isAnimationActive={false}
            shape={(p: any) => <circle cx={p.cx} cy={p.cy} r={6} fill="#000" />}
          />
        )}
      </ScatterChart>
      <div style={{ position: "absolute", left: 102, top: 6, fontFamily: FONT, fontSize: 32, lineHeight: "37px", whiteSpace: "nowrap" }}>
        {title}
      </div>
    </div>
  );
}

// ============================================================================
// Colour bar
// ============================================================================

function ColorBar() {
  const low: Pt[] = [[-24, 0.5], [-20, 1], [-20, 0]];
  const high: Pt[] = [[20, 0], [20, 1], [24, 0.5]];
  return (
    <div style={{ position: "absolute", left: 195, top: 923.3, width: 590, height: 40 }}>
      <ScatterChart width={590} height={40} margin={{ top: 0, right: 0, bottom: 0, left: 0 }}>
        <XAxis type="number" dataKey="x" domain={[-24, 24]} ticks={BAR_TICKS} interval={0} height={25.6} tickSize={0} tickMargin={0} tickLine={false} axisLine={false} tick={BarTick} />
        <YAxis type="number" dataKey="y" domain={[0, 1]} hide />
        <Scatter data={toPoints(low)} shape={NoDot} isAnimationActive={false} line={{ fill: LEVEL_COLORS[-6], stroke: "none" }} />
        {BAR_BANDS.map((band) => (
          <Scatter
            key={band.from}
            data={toPoints([[band.from, 0], [band.to, 0], [band.to, 1], [band.from, 1]])}
            shape={NoDot}
            isAnimationActive={false}
            line={{ fill: LEVEL_COLORS[band.level], stroke: "none" }}
          />
        ))}
        <Scatter data={toPoints(high)} shape={NoDot} isAnimationActive={false} line={{ fill: LEVEL_COLORS[6], stroke: "none" }} />
      </ScatterChart>
    </div>
  );
}

export default function App() {
  return (
    <div style={{ position: "absolute", left: 0, top: 0, width: 977, height: 961, background: "#fff", overflow: "hidden" }}>
      <Panel title="(a) WPISO" left={0} top={0} height={460} shades={WPISO_SHADES} contours={WPISO_CONTOURS} />
      <Panel title="(b) IOSC" left={488.5} top={0} height={460} shades={IOSC_SHADES} contours={IOSC_CONTOURS} />
      <Panel title="(c) WD" left={0} top={456.7} height={459} shades={WD_SHADES} contours={WD_CONTOURS} segment={WD_LINE} dots={WD_DOTS} />
      <Panel title="(d) SD" left={488.5} top={456.7} height={459} shades={SD_SHADES} contours={SD_CONTOURS} segment={SD_LINE} dots={SD_DOTS} />
      <ColorBar />
    </div>
  );
}
